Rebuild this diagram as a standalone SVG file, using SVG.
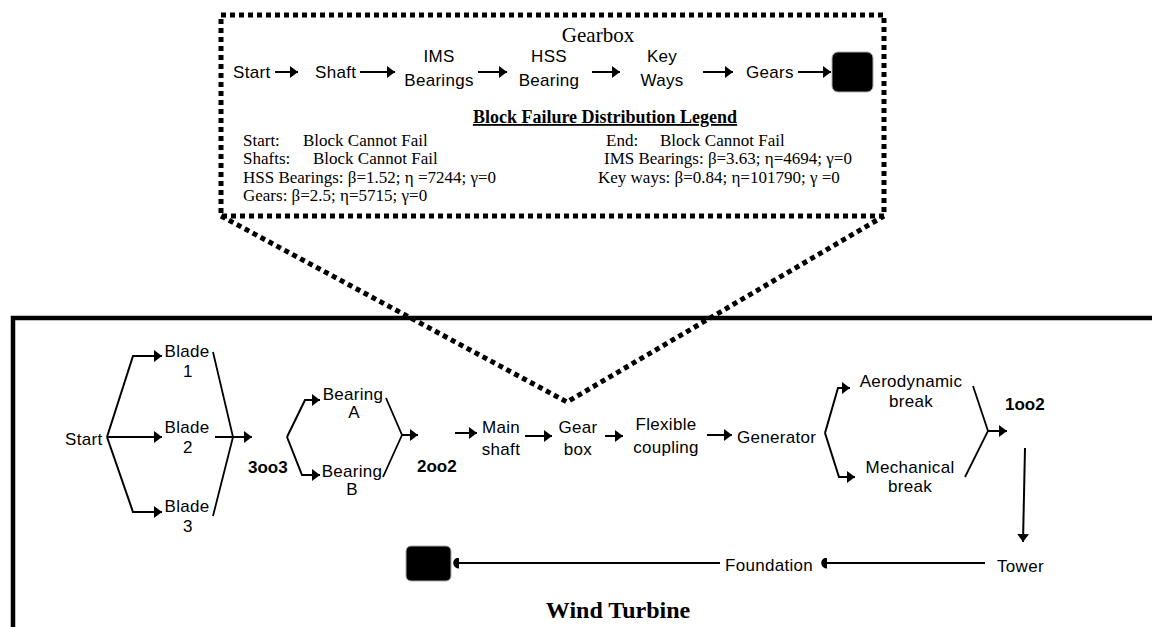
<svg xmlns="http://www.w3.org/2000/svg" width="1152" height="627" viewBox="0 0 1152 627">
<style>
.s{font-family:"Liberation Sans",Arial,sans-serif;font-size:17px;fill:#000;letter-spacing:0.3px}
.b{font-family:"Liberation Sans",Arial,sans-serif;font-size:17px;font-weight:bold;fill:#000}
.t{font-family:"Liberation Serif","Times New Roman",serif;font-size:17px;fill:#000}
.m{text-anchor:middle}
.ln{fill:none;stroke:#000;stroke-width:1.8}
.ar{fill:none;stroke:#000;stroke-width:2;marker-end:url(#ah)}
.ars{fill:none;stroke:#000;stroke-width:2;marker-end:url(#ahs)}
.dot{fill:none;stroke:#000;stroke-width:5;stroke-dasharray:5 4}
.endbox{fill:#000;stroke:#aaa;stroke-width:1}
</style>
<defs>
<marker id="ah" viewBox="0 0 10 10" refX="10" refY="5" markerUnits="userSpaceOnUse" markerWidth="8" markerHeight="12" preserveAspectRatio="none" orient="auto">
<path d="M0,0 L10,5 L0,10 Z" fill="#000"/>
</marker>
<marker id="ahs" viewBox="0 0 10 10" refX="2" refY="5" markerUnits="userSpaceOnUse" markerWidth="6" markerHeight="11" preserveAspectRatio="none" orient="auto">
<path d="M0,0 A10 5 0 0 1 0,10 Z" fill="#000"/>
</marker>
</defs>
<rect width="1152" height="627" fill="#fff"/>

<g id="wind-turbine-frame">
<path d="M13,627 V318 H1152" fill="none" stroke="#000" stroke-width="4.5"/>
<text class="t" x="618" y="618" text-anchor="middle" style="font-size:24px;font-weight:bold">Wind Turbine</text>
</g>
<g id="gearbox-frame">
<rect class="dot" x="221" y="15" width="663" height="201"/>
<polyline class="dot" points="221,216 567,402 884,216"/>
<text class="t" x="598" y="42" text-anchor="middle" style="font-size:21px">Gearbox</text>
</g>

<g id="gb-start"><text class="s" x="233" y="78">Start</text></g>
<g id="gb-shaft"><text class="s" x="315" y="78">Shaft</text></g>
<g id="gb-ims"><text class="s m" x="439" y="62">IMS</text><text class="s m" x="439" y="86">Bearings</text></g>
<g id="gb-hss"><text class="s m" x="549" y="62">HSS</text><text class="s m" x="549" y="86">Bearing</text></g>
<g id="gb-keyways"><text class="s m" x="662" y="62">Key</text><text class="s m" x="662" y="86">Ways</text></g>
<g id="gb-gears"><text class="s" x="746" y="78">Gears</text></g>
<g id="gb-end"><rect class="endbox" x="832" y="52" width="41" height="40" rx="6"/></g>

<g id="legend">
<text class="t" x="605" y="123" text-anchor="middle" style="font-weight:bold;font-size:18px;text-decoration:underline">Block Failure Distribution Legend</text>
<text class="t" x="243" y="146">Start:</text><text class="t" x="303" y="146">Block Cannot Fail</text>
<text class="t" x="243" y="164">Shafts:</text><text class="t" x="313" y="164">Block Cannot Fail</text>
<text class="t" x="243" y="183">HSS Bearings: β=1.52; η =7244; γ=0</text>
<text class="t" x="243" y="201">Gears: β=2.5; η=5715; γ=0</text>
<text class="t" x="606" y="146">End:</text><text class="t" x="660" y="146">Block Cannot Fail</text>
<text class="t" x="604" y="164">IMS Bearings: β=3.63; η=4694; γ=0</text>
<text class="t" x="598" y="183">Key ways: β=0.84; η=101790; γ =0</text>
</g>

<g id="wt-start"><text class="s" x="65" y="445">Start</text></g>
<g id="wt-blade1"><text class="s m" x="187" y="357">Blade</text><text class="s m" x="188" y="377">1</text></g>
<g id="wt-blade2"><text class="s m" x="187" y="433">Blade</text><text class="s m" x="188" y="453">2</text></g>
<g id="wt-blade3"><text class="s m" x="187" y="512">Blade</text><text class="s m" x="188" y="532">3</text></g>
<g id="wt-3oo3"><text class="b" x="248" y="473">3oo3</text></g>
<g id="wt-bearingA"><text class="s m" x="353" y="400">Bearing</text><text class="s m" x="354" y="418">A</text></g>
<g id="wt-bearingB"><text class="s m" x="352" y="477">Bearing</text><text class="s m" x="352" y="495">B</text></g>
<g id="wt-2oo2"><text class="b" x="417" y="472">2oo2</text></g>
<g id="wt-mainshaft"><text class="s m" x="501" y="433">Main</text><text class="s m" x="501" y="455">shaft</text></g>
<g id="wt-gearbox"><text class="s m" x="578" y="433">Gear</text><text class="s m" x="578" y="455">box</text></g>
<g id="wt-coupling"><text class="s m" x="666" y="430">Flexible</text><text class="s m" x="666" y="453">coupling</text></g>
<g id="wt-generator"><text class="s" x="737" y="443">Generator</text></g>
<g id="wt-aero"><text class="s m" x="911" y="387">Aerodynamic</text><text class="s m" x="911" y="407">break</text></g>
<g id="wt-mech"><text class="s m" x="910" y="473">Mechanical</text><text class="s m" x="910" y="492">break</text></g>
<g id="wt-1oo2"><text class="b" x="1005" y="410">1oo2</text></g>
<g id="wt-tower"><text class="s" x="997" y="572">Tower</text></g>
<g id="wt-foundation"><text class="s" x="725" y="571">Foundation</text></g>
<g id="wt-end"><rect class="endbox" x="406" y="546" width="45" height="35" rx="5"/></g>

<g id="connectors">
<path class="ar" d="M275,72 H298"/>
<path class="ar" d="M360,72 H395"/>
<path class="ar" d="M478,72 H507"/>
<path class="ar" d="M592,72 H620"/>
<path class="ar" d="M703,72 H733"/>
<path class="ar" d="M798,72 H831"/>

<path class="ar" d="M107,437 L133,356 H162"/>
<path class="ar" d="M107,437 H162"/>
<path class="ar" d="M107,437 L133,512 H162"/>
<path class="ln" d="M213,352 L233,437 L213,516"/>
<path class="ar" d="M215,437 H252"/>

<path class="ar" d="M287,437 L305,400 H320"/>
<path class="ar" d="M287,437 L302,475 H320"/>
<path class="ln" d="M386,398 L402,435 L383,477"/>
<path class="ar" d="M402,435 H418"/>

<path class="ar" d="M455,433 H477"/>
<path class="ar" d="M525,436 H552"/>
<path class="ar" d="M605,436 H623"/>
<path class="ar" d="M707,435 H732"/>

<path class="ar" d="M825,433 L838,388 H850"/>
<path class="ar" d="M825,433 L839,477 H855"/>
<path class="ln" d="M973,386 L988,431 L965,477"/>
<path class="ar" d="M988,431 H1007"/>

<path class="ar" d="M1025,448 L1023,542"/>
<path class="ars" d="M985,563 H826"/>
<path class="ars" d="M720,563 H458"/>
</g>
</svg>
